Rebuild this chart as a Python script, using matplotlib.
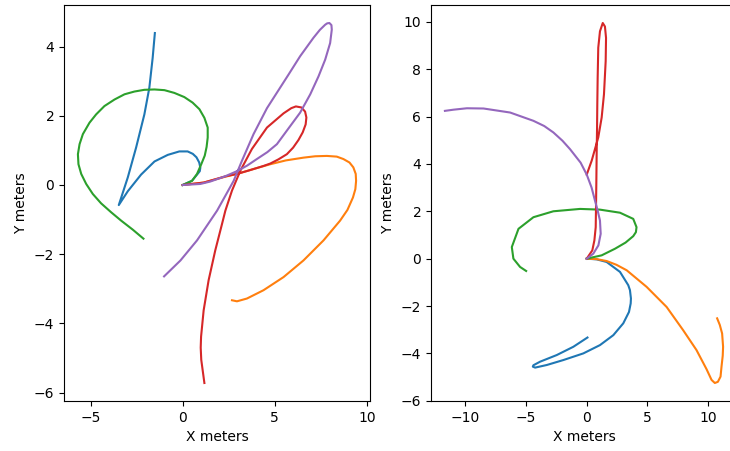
import matplotlib
matplotlib.use("Agg")
import matplotlib.pyplot as plt

# ---- Left panel trajectories (meters) ----
l_blue_x = [0, 0.50, 0.78, 0.93, 0.96, 0.90, 0.75, 0.55, 0.27, -0.18, -0.81, -1.53, -2.26,
            -2.98, -3.47, -2.98, -2.53, -2.08, -1.81, -1.63, -1.51]
l_blue_y = [0, 0.12, 0.30, 0.40, 0.50, 0.65, 0.80, 0.90, 0.97, 0.97, 0.87, 0.68, 0.30,
            -0.18, -0.58, 0.22, 1.08, 2.04, 2.81, 3.67, 4.39]

l_orange_x = [0, 1.14, 2.32, 2.95, 3.9, 4.76, 5.6, 6.56, 7.2, 7.83, 8.37, 8.73, 9.06, 9.27,
              9.40, 9.42, 9.38, 9.25, 8.95, 8.55, 7.65, 6.56, 5.48, 4.39, 3.49, 2.95, 2.68]
l_orange_y = [0, 0.07, 0.24, 0.32, 0.47, 0.60, 0.71, 0.79, 0.83, 0.84, 0.82, 0.75, 0.65,
              0.51, 0.32, 0.12, -0.12, -0.36, -0.72, -1.03, -1.60, -2.18, -2.66, -3.04, -3.28,
              -3.36, -3.33]

l_green_x = [0, 0.51, 0.78, 1.01, 1.20, 1.30, 1.36, 1.36, 1.18, 0.91, 0.54, 0.09, -0.45,
             -0.99, -1.53, -2.08, -2.62, -3.16, -3.70, -4.25, -4.70, -5.06, -5.42, -5.60,
             -5.69, -5.66, -5.51, -5.24, -4.88, -4.43, -3.88, -3.34, -2.71, -2.13]
l_green_y = [0, 0.12, 0.32, 0.60, 0.85, 1.10, 1.37, 1.66, 1.94, 2.19, 2.38, 2.54, 2.66,
             2.74, 2.76, 2.75, 2.70, 2.62, 2.47, 2.28, 2.04, 1.80, 1.47, 1.18, 0.89, 0.60,
             0.32, 0.03, -0.26, -0.53, -0.79, -1.03, -1.29, -1.55]

l_red_x = [0, 1.14, 2.32, 2.95, 3.6, 4.39, 4.76, 5.2, 5.66, 6.0, 6.29, 6.52, 6.68, 6.72,
           6.65, 6.45, 6.15, 5.9, 5.48, 4.58, 3.76, 3.13, 2.68, 2.32, 2.14, 1.77, 1.41,
           1.14, 1.00, 0.98, 1.01, 1.18]
l_red_y = [0, 0.07, 0.25, 0.32, 0.42, 0.55, 0.62, 0.74, 0.89, 1.08, 1.30, 1.52, 1.75, 1.95,
           2.12, 2.24, 2.27, 2.22, 2.07, 1.66, 1.04, 0.41, -0.16, -0.74, -1.12, -1.89,
           -2.75, -3.62, -4.38, -4.70, -5.05, -5.72]

l_purple_x = [0, 0.96, 1.50, 2.30, 2.95, 3.5, 4.03, 4.6, 5.12, 5.7, 6.38, 6.93, 7.38, 7.74,
              8.01, 8.10, 8.08, 7.97, 7.85, 7.74, 7.45, 7.10, 6.38, 5.75, 4.58, 3.85,
              3.22, 2.77, 1.87, 0.78, -0.12, -1.01]
l_purple_y = [0, 0.03, 0.10, 0.25, 0.40, 0.56, 0.75, 0.95, 1.18, 1.60, 2.09, 2.62, 3.14,
              3.62, 4.10, 4.49, 4.62, 4.68, 4.67, 4.63, 4.48, 4.25, 3.72, 3.19, 2.22,
              1.47, 0.70, 0.12, -0.74, -1.60, -2.18, -2.64]

# ---- Right panel trajectories (meters) ----
r_blue_x = [0, 0.82, 1.64, 2.74, 3.42, 3.56, 3.64, 3.62, 3.48, 3.01, 2.19, 1.09, -0.28, -1.92,
            -3.29, -4.25, -4.44, -4.39, -3.84, -2.47, -1.10, 0.06]
r_blue_y = [0, -0.03, -0.14, -0.56, -1.12, -1.33, -1.68, -1.89, -2.25, -2.73, -3.23, -3.65,
            -4.00, -4.28, -4.49, -4.60, -4.56, -4.50, -4.35, -4.07, -3.72, -3.33]

r_orange_x = [0, 0.82, 1.64, 2.45, 3.29, 4.93, 6.58, 7.94, 9.04, 9.87, 10.28, 10.55, 10.80,
              11.02, 11.10, 11.20, 11.23, 11.15, 10.96, 10.74]
r_orange_y = [0, -0.02, -0.10, -0.26, -0.49, -1.19, -2.04, -3.02, -3.86, -4.67, -5.12, -5.25,
              -5.20, -4.98, -4.56, -4.10, -3.72, -3.16, -2.80, -2.52]

r_green_x = [0, 1.23, 2.33, 3.20, 3.83, 4.05, 4.10, 3.83, 2.74, 1.09, -0.55, -2.75, -4.39,
             -5.62, -6.17, -6.04, -5.49, -4.99]
r_green_y = [0, 0.14, 0.42, 0.68, 0.95, 1.12, 1.33, 1.68, 1.94, 2.07, 2.10, 2.00, 1.75,
             1.26, 0.49, 0.00, -0.35, -0.52]

r_red_x = [0, 0.46, 0.63, 0.74, 0.76, 0.79, 0.82, 0.85, 0.87, 0.90, 0.95, 1.09, 1.32, 1.50,
           1.59, 1.56, 1.42, 1.23, 0.95, 0.68, 0.41, 0.0]
r_red_y = [0, 0.35, 0.77, 1.33, 2.03, 3.16, 4.56, 5.50, 6.50, 7.64, 8.91, 9.60, 9.95, 9.80,
           9.32, 8.34, 6.94, 5.96, 5.12, 4.63, 4.14, 3.55]

r_purple_x = [0, 0.54, 0.96, 1.15, 1.09, 0.90, 0.68, 0.40, 0.0, -0.50, -1.37, -2.0, -2.75,
              -3.5, -4.39, -6.31, -8.50, -9.87, -10.97, -11.68]
r_purple_y = [0, 0.21, 0.56, 1.05, 1.61, 2.03, 2.45, 3.00, 3.55, 4.05, 4.62, 4.98, 5.33,
              5.60, 5.82, 6.17, 6.34, 6.35, 6.29, 6.24]

W, H = 730, 451
fig = plt.figure(figsize=(W / 100, H / 100), dpi=100)
ax1 = fig.add_axes([64 / W, (H - 401) / H, 306 / W, 396 / H])
ax2 = fig.add_axes([431 / W, (H - 401) / H, 306 / W, 396 / H])

for ax, series in (
    (ax1, [(l_blue_x, l_blue_y), (l_orange_x, l_orange_y), (l_green_x, l_green_y),
           (l_red_x, l_red_y), (l_purple_x, l_purple_y)]),
    (ax2, [(r_blue_x, r_blue_y), (r_orange_x, r_orange_y), (r_green_x, r_green_y),
           (r_red_x, r_red_y), (r_purple_x, r_purple_y)]),
):
    for xs, ys in series:
        ax.plot(xs, ys, solid_joinstyle="round")
    ax.set_xlabel("X meters")
    ax.set_ylabel("Y meters")

ax1.set_xticks([-5, 0, 5, 10])
ax1.set_yticks([-6, -4, -2, 0, 2, 4])
ax2.set_xticks([-10, -5, 0, 5, 10])
ax2.set_yticks([-6, -4, -2, 0, 2, 4, 6, 8, 10])

fig.savefig("out.png", dpi=100)
